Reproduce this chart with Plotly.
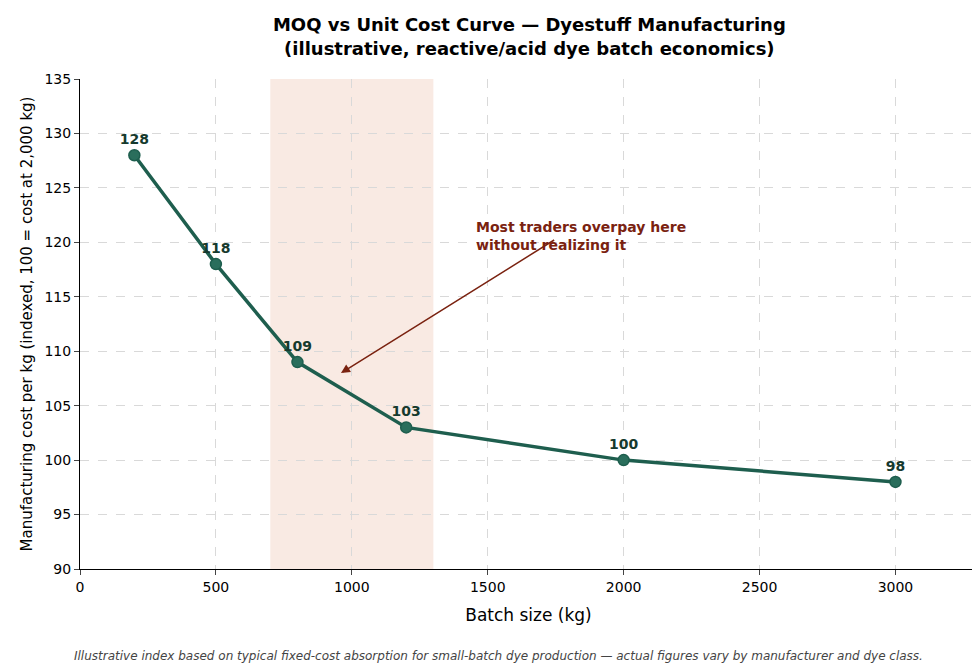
import plotly.graph_objects as go

batch = [200, 500, 800, 1200, 2000, 3000]
cost = [128, 118, 109, 103, 100, 98]
labels = ["128", "118", "109", "103", "100", "98"]

fig = go.Figure()
fig.add_vrect(x0=700, x1=1300, fillcolor="rgba(230,170,145,0.25)", line_width=0, layer="below")
fig.add_trace(go.Scatter(x=batch, y=cost, mode="lines+markers+text", text=labels,
    textposition="top center", textfont=dict(size=14, color="#163a2e", family="DejaVu Sans", weight="bold"),
    line=dict(color="#1e5e4e", width=3.5), marker=dict(size=11, color="#2a6e5c", line=dict(color="#1e5e4e", width=1.5)),
    showlegend=False, cliponaxis=False))
fig.add_annotation(x=960, y=108, ax=1750, ay=120.3, xref="x", yref="y", axref="x", ayref="y",
    showarrow=True, arrowhead=2, arrowsize=1.2, arrowwidth=1.5, arrowcolor="#7a2210", text="")
fig.add_annotation(x=1450, y=122.3, xref="x", yref="y", xanchor="left", yanchor="top", showarrow=False,
    align="left", text="<b>Most traders overpay here<br>without realizing it</b>",
    font=dict(size=14, color="#7a2210", family="DejaVu Sans"))
fig.add_annotation(x=0.466, y=-0.195, xref="paper", yref="paper", showarrow=False,
    text="<i>Illustrative index based on typical fixed-cost absorption for small-batch dye production — actual figures vary by manufacturer and dye class.</i>",
    font=dict(size=12, color="#444", family="DejaVu Sans"))
fig.update_layout(
    width=980, height=663, plot_bgcolor="white", paper_bgcolor="white",
    margin=dict(l=72, r=11, t=71, b=102),
    font=dict(family="DejaVu Sans", color="black", size=14),
    title=dict(text="<b>MOQ vs Unit Cost Curve — Dyestuff Manufacturing<br>(illustrative, reactive/acid dye batch economics)</b>",
               x=0.532, xanchor="center", y=0.965, yanchor="top", font=dict(size=18)),
    xaxis=dict(range=[0, 3300], tickvals=[0, 500, 1000, 1500, 2000, 2500, 3000], showgrid=True, automargin=False,
               gridcolor="#d9d9d9", griddash="dash", showline=True, linecolor="black", ticks="outside",
               title=dict(text="Batch size (kg)", font=dict(size=17)), zeroline=False),
    yaxis=dict(range=[90, 135], dtick=5, showgrid=True, gridcolor="#d9d9d9", griddash="dash", automargin=False,
               showline=True, linecolor="black", ticks="outside", zeroline=False,
               title=dict(text="Manufacturing cost per kg (indexed, 100 = cost at 2,000 kg)", font=dict(size=15), standoff=8)),
)
fig.write_html("out.html")
